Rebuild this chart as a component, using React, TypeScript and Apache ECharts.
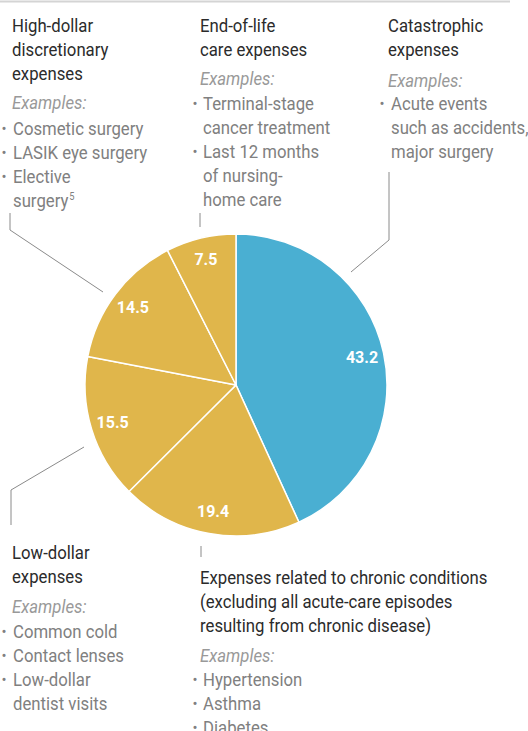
import React, { useEffect, useRef } from "react";
import * as echarts from "echarts";

// ---------- data ----------
const sliceNames = [
  "Catastrophic expenses",
  "Expenses related to chronic conditions",
  "Low-dollar expenses",
  "High-dollar discretionary expenses",
  "End-of-life care expenses",
];
const sliceValues = [43.2, 19.4, 15.5, 14.5, 7.5];
const sliceColors = ["#4aafd2", "#e0b64b", "#e0b64b", "#e0b64b", "#e0b64b"];

const highDollarTitle = ["High-dollar", "discretionary", "expenses"];
const highDollarItems = [["Cosmetic surgery"], ["LASIK eye surgery"], ["Elective", "surgery{sup|5}"]];

const endOfLifeTitle = ["End-of-life", "care expenses"];
const endOfLifeItems = [["Terminal-stage", "cancer treatment"], ["Last 12 months", "of nursing-", "home care"]];

const catastrophicTitle = ["Catastrophic", "expenses"];
const catastrophicItems = [["Acute events", "such as accidents,", "major surgery"]];

const lowDollarTitle = ["Low-dollar", "expenses"];
const lowDollarItems = [["Common cold"], ["Contact lenses"], ["Low-dollar", "dentist visits"]];

const chronicTitle = [
  "Expenses related to chronic conditions",
  "(excluding all acute-care episodes",
  "resulting from chronic disease)",
];
const chronicItems = [["Hypertension"], ["Asthma"], ["Diabetes"]];

const examplesLabel = "Examples:";

// ---------- styles ----------
const FONT = "Roboto, 'Liberation Sans', sans-serif";
const TITLE_COLOR = "#2b2b2b";
const BODY_COLOR = "#808080";
const EX_COLOR = "#999999";
const FS = 18;
const SX = 0.93;
const LH = 24;

function textEl(x: number, y: number, text: string, color: string, extra: any = {}) {
  return {
    type: "text",
    x,
    y,
    scaleX: SX,
    silent: true,
    style: {
      text,
      fill: color,
      font: `${extra.italic ? "italic " : ""}${FS}px ${FONT}`,
      verticalAlign: "middle",
      align: "left",
      rich: {
        sup: { fontSize: 10, fontFamily: FONT, fill: color, padding: [0, 0, 9, 1] },
      },
    },
  };
}

function block(
  x: number,
  bulletX: number,
  itemX: number,
  title: string[],
  titleY: number,
  exY: number,
  items: string[][],
  itemY: number
) {
  const els: any[] = [];
  title.forEach((t, i) => els.push(textEl(x, titleY + i * LH, t, TITLE_COLOR)));
  els.push(textEl(x, exY, examplesLabel, EX_COLOR, { italic: true }));
  let row = 0;
  items.forEach((lines) => {
    lines.forEach((l, j) => {
      const y = itemY + row * LH;
      if (j === 0) {
        els.push({
          type: "text",
          x: bulletX,
          y,
          silent: true,
          style: {
            text: "•",
            fill: BODY_COLOR,
            font: `15px ${FONT}`,
            verticalAlign: "middle",
            align: "center",
          },
        });
      }
      els.push(textEl(itemX, y, l, BODY_COLOR));
      row++;
    });
  });
  return els;
}

function leader(points: number[][]) {
  return {
    type: "polyline",
    silent: true,
    shape: { points },
    style: { stroke: "#8a8a8a", lineWidth: 1, fill: "none" },
  };
}

export default function App() {
  const ref = useRef<HTMLDivElement>(null);
  useEffect(() => {
    if (!ref.current) return;
    const chart = echarts.init(ref.current, null, { renderer: "svg" });
    const pieData = sliceValues.map((v, i) => ({
      name: sliceNames[i],
      value: v,
      itemStyle: { color: sliceColors[i] },
    }));
    const labelData = sliceValues.map((v, i) => ({ name: sliceNames[i], value: v }));
    const graphics: any[] = [
      {
        type: "line",
        silent: true,
        shape: { x1: 0, y1: 1.5, x2: 510, y2: 1.5 },
        style: { stroke: "#d4d4d4", lineWidth: 2 },
      },
      ...block(12, 4, 13, highDollarTitle, 26, 103, highDollarItems, 129),
      ...block(200, 195, 203, endOfLifeTitle, 26, 79, endOfLifeItems, 104),
      ...block(388, 382, 391, catastrophicTitle, 26, 81, catastrophicItems, 104),
      ...block(12, 4, 13, lowDollarTitle, 553, 607, lowDollarItems, 632),
      ...block(200, 195, 203, chronicTitle, 578, 656, chronicItems, 680),
      leader([[10, 213], [10, 230], [103, 292]]),
      leader([[200, 213], [200, 227]]),
      leader([[389, 172], [389, 240], [351, 272]]),
      leader([[11, 525], [11, 490], [84, 447]]),
      leader([[201, 546], [201, 557]]),
    ];
    chart.setOption({
      animation: false,
      backgroundColor: "#ffffff",
      series: [
        {
          type: "pie",
          center: [236, 385],
          radius: [0, 151],
          startAngle: 90,
          clockwise: true,
          silent: true,
          label: { show: false },
          labelLine: { show: false },
          itemStyle: { borderColor: "#ffffff", borderWidth: 1.5 },
          data: pieData,
        },
        {
          type: "pie",
          center: [236, 385],
          radius: [101, 151],
          startAngle: 90,
          clockwise: true,
          silent: true,
          itemStyle: { color: "rgba(0,0,0,0)" },
          label: {
            show: true,
            position: "inside",
            formatter: "{c}",
            color: "#ffffff",
            fontFamily: FONT,
            fontWeight: "bold",
            fontSize: 16,
          },
          labelLine: { show: false },
          data: labelData,
        },
      ],
      graphic: graphics,
    });
    return () => chart.dispose();
  }, []);
  return (
    <div
      ref={ref}
      style={{ position: "absolute", left: 0, top: 0, width: 528, height: 731 }}
    />
  );
}
